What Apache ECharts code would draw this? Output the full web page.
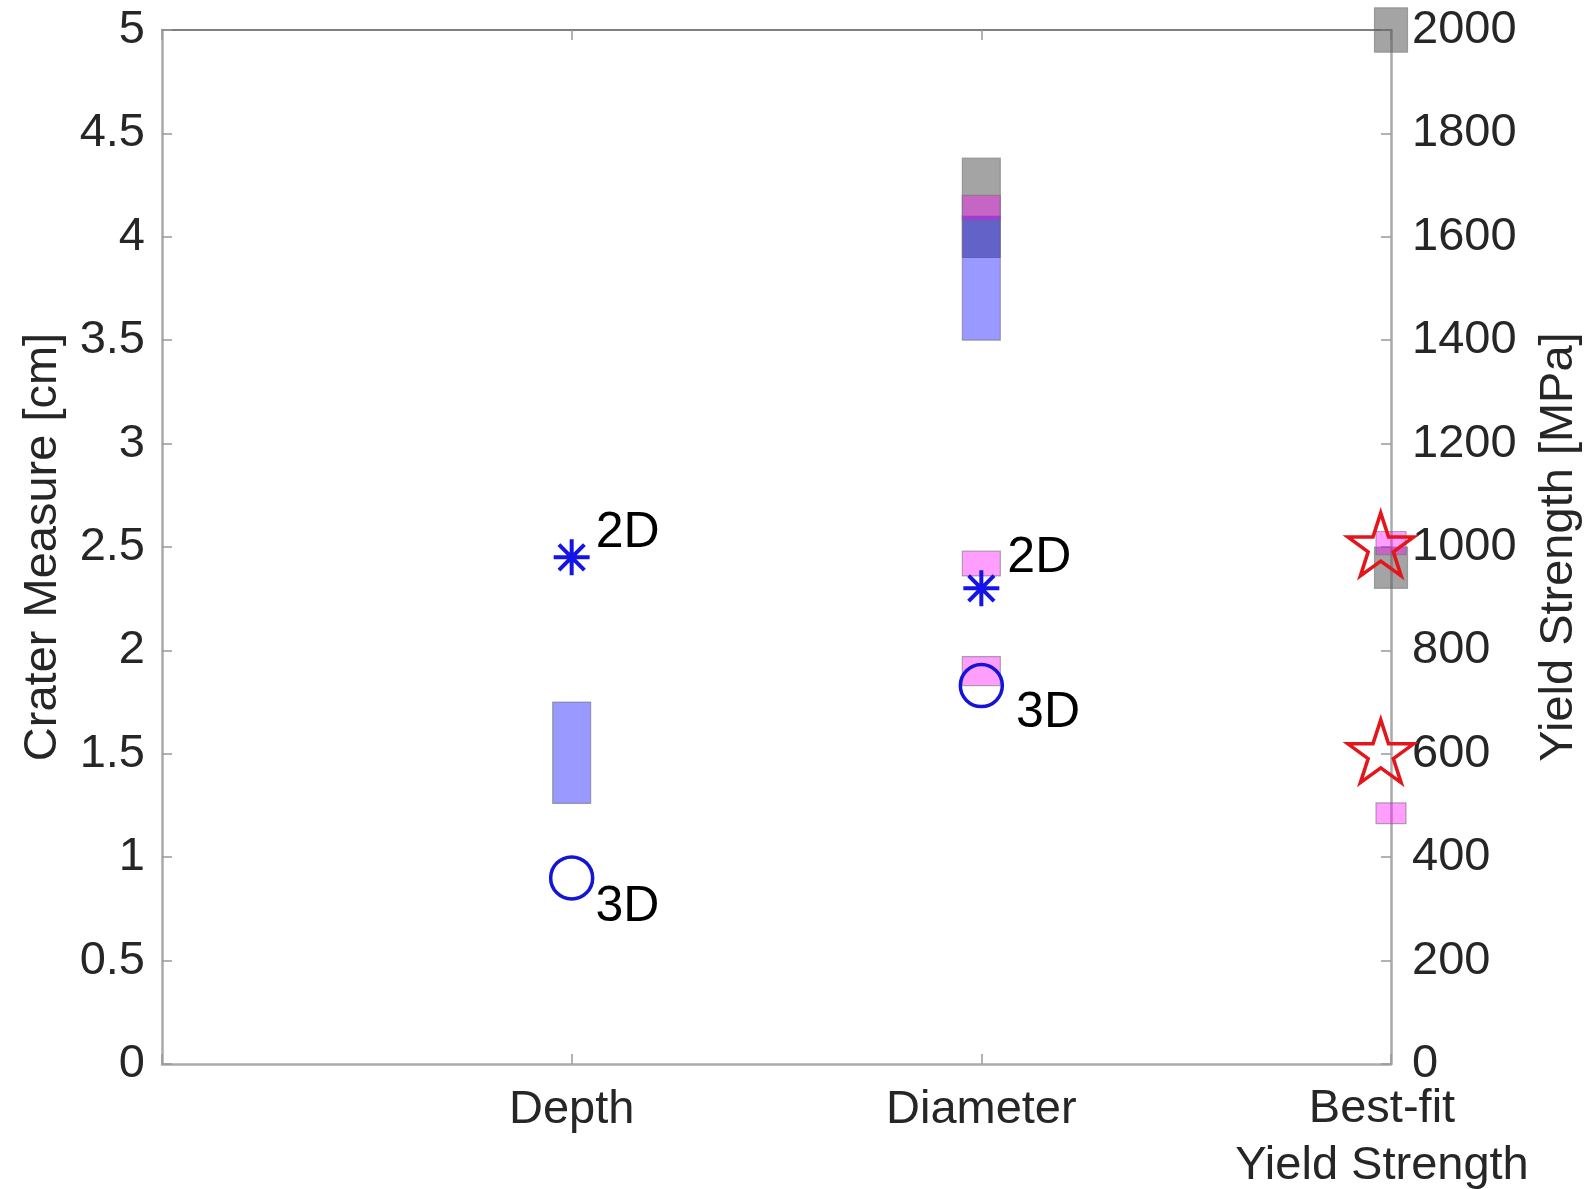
<!DOCTYPE html>
<html>
<head>
<meta charset="utf-8">
<script src="https://cdn.jsdelivr.net/npm/echarts@6/dist/echarts.min.js"></script>
<style>
  html, body { margin: 0; padding: 0; background: #fff; }
  #container { width: 1590px; height: 1189px; }
</style>
</head>
<body>
<div id="container"></div>
<script>
// x positions: 1 = Depth, 2 = Diameter, 3 = Best-fit yield strength
const categories = ["", "Depth", "Diameter", "Best-fit\nYield Strength"];

// measured ranges [x, low, high]  (cm on the left axis)
const grayLeft = [[2, 3.9, 4.38]];
const blueLeft = [[1, 1.26, 1.75], [2, 3.5, 4.1]];
const pinkLeft = [[2, 4.08, 4.2], [2, 2.36, 2.48], [2, 1.83, 1.97]];

// ranges on the right axis (MPa)
const grayRight = [[3, 1957, 2043], [3, 920, 1000]];
const pinkRight = [[3, 985, 1030], [3, 465, 505]];

// simulation points [x, cm]
const sim2D = [[1, 2.45], [2, 2.3]];
const sim3D = [[1, 0.9], [2, 1.83]];

// best-fit yield strengths [x, MPa]
const yieldStars = [[2.975, 1005], [2.975, 605]];

const FONT = "Liberation Sans, Arial, Helvetica, sans-serif";
const TEXT = "#262626";

const dom = document.getElementById("container");
const myChart = echarts.init(dom, null, { renderer: "canvas" });

function starPath() {
  let d = "";
  for (let i = 0; i < 10; i++) {
    const r = i % 2 === 0 ? 1 : 0.382;
    const a = -Math.PI / 2 + (i * Math.PI) / 5;
    d += (i === 0 ? "M" : "L") + (r * Math.cos(a)).toFixed(4) + "," + (r * Math.sin(a)).toFixed(4);
  }
  return "path://" + d + "Z";
}

const asterisk =
  "path://M0,-1L0,1M-1,0L1,0M-0.707,-0.707L0.707,0.707M-0.707,0.707L0.707,-0.707";

function rangeSeries(data, yAxisIndex, fill, width, z) {
  return {
    type: "custom",
    yAxisIndex: yAxisIndex,
    z: z,
    clip: false,
    encode: { x: 0, y: [1, 2] },
    data: data,
    renderItem: function (params, api) {
      const x = api.value(0);
      const lo = api.coord([x, api.value(1)]);
      const hi = api.coord([x, api.value(2)]);
      return {
        type: "rect",
        shape: { x: lo[0] - width / 2, y: hi[1], width: width, height: lo[1] - hi[1] },
        style: { fill: fill, stroke: "rgba(110,110,110,0.55)", lineWidth: 1.2 },
      };
    },
  };
}

function pointLabel(text, offset) {
  return {
    show: true,
    formatter: text,
    position: "right",
    distance: 0,
    offset: offset,
    fontSize: 50,
    fontFamily: FONT,
    color: "#000",
  };
}

const offsets2D = [[4, -24], [6, -30]];
const offsets3D = [[1, 29], [12, 28]];

const axisLabelStyle = { fontSize: 47, fontFamily: FONT, color: TEXT };

// last category label sits a little left of the right axis in the original
function xLabel(v) {
  const text = categories[v] || "";
  if (v !== 3) return text;
  return text
    .split("\n")
    .map((line) => "{shift|" + line + "}")
    .join("\n");
}

const option = {
  animation: false,
  backgroundColor: "#fff",
  grid: { left: 162, right: 199, top: 30, bottom: 125, outerBoundsMode: "none", containLabel: false },
  xAxis: [
    {
      type: "value",
      min: 0,
      max: 3,
      interval: 1,
      position: "bottom",
      axisLine: { onZero: false, lineStyle: { color: "#aaaaaa", width: 2.5 } },
      axisTick: { show: true, inside: true, length: 10, lineStyle: { color: "#999", width: 1.5 } },
      axisLabel: Object.assign({}, axisLabelStyle, {
        margin: 17,
        lineHeight: 58,
        formatter: xLabel,
        rich: {
          shift: {
            fontSize: 47,
            fontFamily: FONT,
            color: TEXT,
            lineHeight: 57,
            padding: [0, 18, 0, 0],
          },
        },
      }),
      splitLine: { show: false },
    },
    {
      type: "value",
      min: 0,
      max: 3,
      interval: 1,
      position: "top",
      axisLine: { onZero: false, lineStyle: { color: "#555", width: 1.5 } },
      axisTick: { show: true, inside: true, length: 10, lineStyle: { color: "#999", width: 1.5 } },
      axisLabel: { show: false },
      splitLine: { show: false },
    },
  ],
  yAxis: [
    {
      type: "value",
      min: 0,
      max: 5,
      interval: 0.5,
      position: "left",
      name: "Crater Measure [cm]",
      nameLocation: "middle",
      nameRotate: 90,
      nameGap: 95,
      nameTextStyle: axisLabelStyle,
      axisLine: { show: true, onZero: false, lineStyle: { color: "#aaaaaa", width: 2.5 } },
      axisTick: { show: true, inside: true, length: 10, lineStyle: { color: "#999", width: 1.5 } },
      axisLabel: Object.assign({}, axisLabelStyle, { margin: 17 }),
      splitLine: { show: false },
    },
    {
      type: "value",
      min: 0,
      max: 2000,
      interval: 200,
      position: "right",
      name: "Yield Strength [MPa]",
      nameLocation: "middle",
      nameRotate: 90,
      nameGap: 145,
      nameTextStyle: axisLabelStyle,
      axisLine: { show: true, onZero: false, lineStyle: { color: "#aaaaaa", width: 2.5 } },
      axisTick: { show: true, inside: true, length: 10, lineStyle: { color: "#999", width: 1.5 } },
      axisLabel: Object.assign({}, axisLabelStyle, { margin: 21, formatter: (v) => String(v) }),
      splitLine: { show: false },
    },
  ],
  series: [
    rangeSeries(grayLeft, 0, "rgba(90,90,90,0.55)", 38, 2),
    rangeSeries(grayRight, 1, "rgba(90,90,90,0.55)", 33, 2),
    rangeSeries(blueLeft, 0, "rgba(0,0,255,0.4)", 38, 3),
    rangeSeries(pinkLeft, 0, "rgba(255,0,255,0.38)", 38, 4),
    rangeSeries(pinkRight, 1, "rgba(255,0,255,0.38)", 30, 4),
    {
      type: "scatter",
      z: 6,
      symbol: asterisk,
      symbolSize: 36,
      itemStyle: { color: "rgba(0,0,0,0)", borderColor: "#1414e6", borderWidth: 4, opacity: 1 },
      data: sim2D.map((p, i) => ({ value: p, label: pointLabel("2D", offsets2D[i]) })),
    },
    {
      type: "scatter",
      z: 6,
      symbol: "circle",
      symbolSize: 42,
      itemStyle: { color: "rgba(0,0,0,0)", borderColor: "#1414d6", borderWidth: 3.5, opacity: 1 },
      data: sim3D.map((p, i) => ({ value: p, label: pointLabel("3D", offsets3D[i]) })),
    },
    {
      type: "scatter",
      z: 7,
      yAxisIndex: 1,
      symbol: starPath(),
      symbolSize: [66, 63],
      itemStyle: { color: "rgba(0,0,0,0)", borderColor: "#e3161b", borderWidth: 3.5, opacity: 1 },
      data: yieldStars,
    },
  ],
};

myChart.setOption(option);
window.addEventListener("resize", myChart.resize);
</script>
</body>
</html>
